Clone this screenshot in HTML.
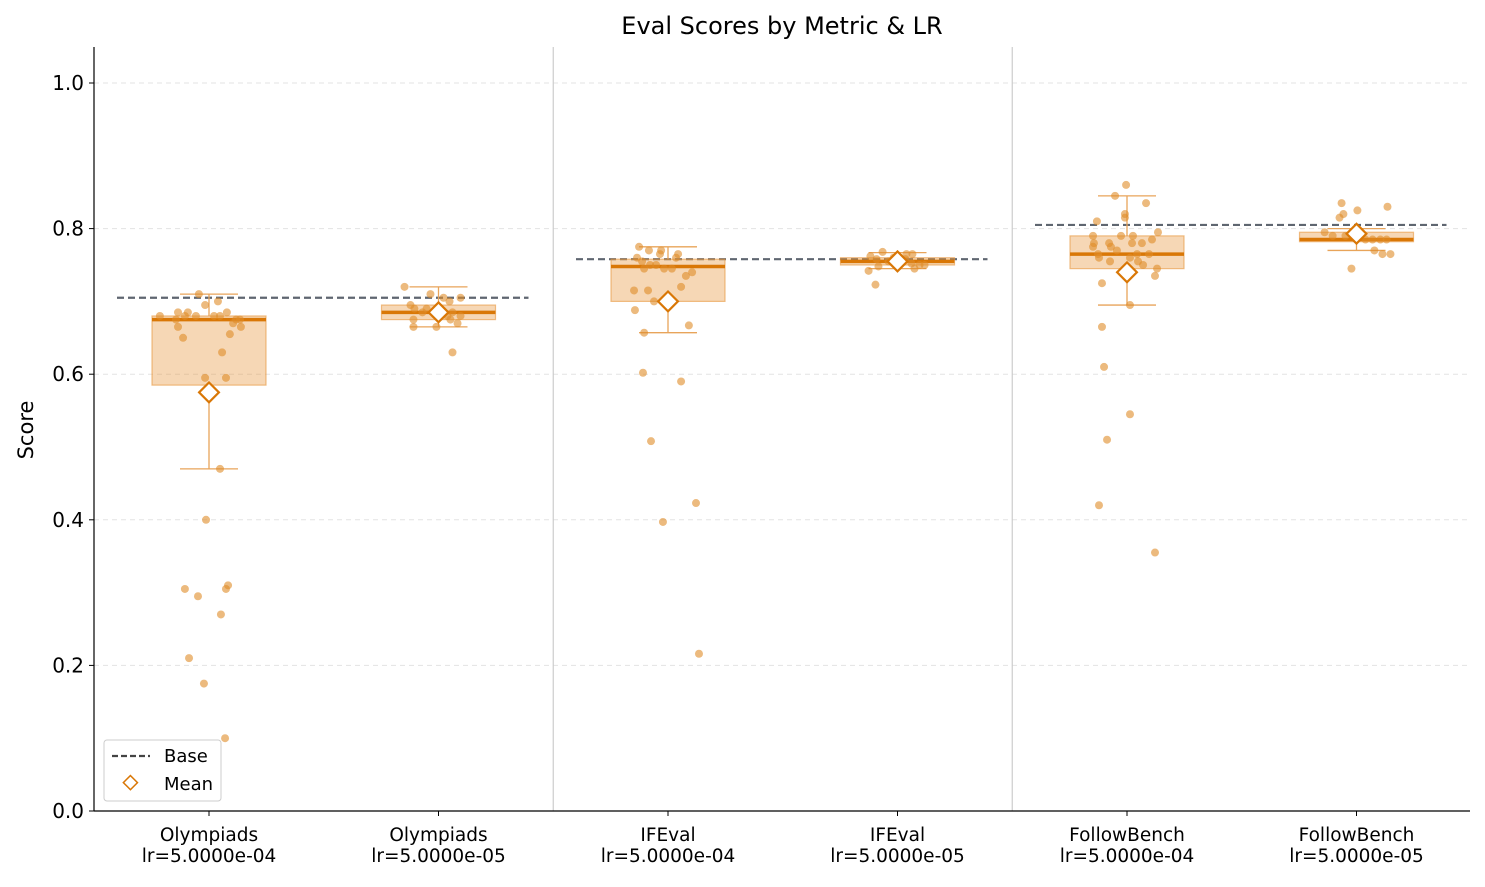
<!DOCTYPE html>
<html><head><meta charset="utf-8"><style>
body{margin:0;background:#fff;font-family:"Liberation Sans","DejaVu Sans",sans-serif}
svg text{font-family:"DejaVu Sans","Liberation Sans",sans-serif}
</style></head><body>
<svg id="chart" width="1485" height="882" viewBox="0 0 1485 882" xmlns="http://www.w3.org/2000/svg">
<text x="782" y="34" font-size="24" text-anchor="middle" fill="#000">Eval Scores by Metric &amp; LR</text>
<text x="0" y="0" font-size="21" text-anchor="middle" transform="translate(33,430) rotate(-90)">Score</text>
<g id="grid"></g><g id="marks"></g><g id="axes"></g>
<g>
<rect x="104" y="740" width="117" height="61" rx="3" fill="#fff" stroke="#ccc"/>
<line x1="112" y1="756" x2="150" y2="756" stroke="#444" stroke-width="2.2" stroke-dasharray="6,3"/>
<text x="164" y="762" font-size="18">Base</text>
<rect x="124" y="777" width="10" height="10" transform="rotate(45 129 784)" fill="#fff" stroke="#d97706" stroke-width="1.5"/>
<text x="164" y="790" font-size="18">Mean</text>
</g>
</svg>
<script>
const categories=["Olympiads\nlr=5.0000e-04","Olympiads\nlr=5.0000e-05","IFEval\nlr=5.0000e-04","IFEval\nlr=5.0000e-05","FollowBench\nlr=5.0000e-04","FollowBench\nlr=5.0000e-05"];
const q1=[0.585,0.675,0.70,0.75,0.745,0.782];
const median=[0.675,0.685,0.748,0.755,0.765,0.785];
const q3=[0.68,0.695,0.758,0.76,0.79,0.795];
const whiskerLow=[0.47,0.665,0.657,0.745,0.695,0.77];
const whiskerHigh=[0.71,0.72,0.775,0.767,0.845,0.80];
const means=[0.575,0.685,0.70,0.755,0.74,0.793];
const baseScores=[0.705,0.758,0.805];
const yTicks=[0,0.2,0.4,0.6,0.8,1.0];
const pointValues=[
[.71,.70,.695,.685,.685,.68,.68,.68,.685,.675,.67,.665,.665,.655,.65,.63,.595,.595,.47,.40,.31,.305,.305,.295,.27,.21,.175,.10,.68,.675,.68,.675],
[.72,.71,.705,.705,.70,.695,.69,.685,.685,.68,.68,.675,.675,.67,.665,.665,.63,.69,.69],
[.775,.77,.77,.765,.765,.76,.76,.755,.75,.75,.745,.745,.74,.735,.72,.715,.715,.70,.688,.667,.657,.602,.59,.508,.423,.397,.216,.745],
[.768,.765,.765,.762,.76,.758,.758,.755,.752,.75,.75,.748,.745,.742,.723,.755],
[.86,.845,.835,.82,.815,.81,.795,.79,.79,.79,.785,.78,.78,.78,.78,.775,.775,.77,.765,.765,.765,.76,.76,.755,.755,.75,.745,.735,.725,.695,.665,.61,.545,.51,.42,.355],
[.835,.83,.825,.82,.815,.795,.79,.79,.785,.785,.785,.785,.77,.765,.765,.745]];
const pointJitter=[
[-.044,.039,-.017,-.135,-.092,-.057,.022,.048,.078,.135,.105,-.135,.139,.091,-.113,.057,-.017,.074,.048,-.013,.083,-.105,.074,-.048,.052,-.087,-.022,.070,-.214,-.144,-.105,.118],
[-.148,-.035,.022,.096,.048,-.122,-.105,-.070,.061,.039,.096,-.109,.052,.083,-.109,-.009,.061,-.052,.009],
[-.126,-.083,-.030,-.035,.044,-.135,.035,-.113,-.078,-.052,-.104,.017,.105,.078,.057,-.148,-.087,-.061,-.144,.091,-.104,-.109,.057,-.074,.122,-.022,.135,-.017],
[-.065,.039,.065,-.118,-.017,-.091,.035,.004,.061,.096,.118,-.083,.074,-.126,-.096,-.039],
[-.004,-.052,.083,-.009,-.009,-.131,.135,-.148,-.026,.026,.109,-.144,-.078,.022,.065,-.148,-.070,-.044,-.126,.044,.096,-.122,.013,-.074,.048,.070,.131,.122,-.109,.013,-.109,-.100,.013,-.087,-.122,.122],
[-.065,.135,.004,-.057,-.074,-.139,-.104,-.048,.039,.070,.104,.131,.078,.113,.148,-.022]];
const NS="http://www.w3.org/2000/svg";
const X0=94,X1=1470,Y0=811,C0=209,STEP=229.5;
const yS=v=>Y0-728*v;
const xS=i=>C0+STEP*i;
function mk(tag,attrs,parent){const e=document.createElementNS(NS,tag);for(const k in attrs)e.setAttribute(k,attrs[k]);parent.appendChild(e);return e;}
const grid=document.getElementById('grid'),marks=document.getElementById('marks'),axes=document.getElementById('axes');
yTicks.forEach(t=>{
 if(t>0){const g=mk('line',{x1:X0,x2:X1,y1:yS(t),y2:yS(t),stroke:'#e3e3e3','stroke-dasharray':'5,4'},grid);
 
 }
 mk('line',{x1:X0-5,x2:X0,y1:yS(t),y2:yS(t),stroke:'#000'},axes);
 const tx=mk('text',{x:X0-10,y:yS(t)+7,'font-size':20,'text-anchor':'end'},axes);tx.textContent=t.toFixed(1);
 
 
});
[1.5,3.5].forEach(p=>{const l=mk('line',{x1:xS(p),x2:xS(p),y1:47,y2:Y0,stroke:'#ccc','stroke-width':1.2},grid);
 
 });
baseScores.forEach((b,m)=>{
 const l=mk('line',{x1:xS(2*m)-92,x2:xS(2*m+1)+90,y1:yS(b),y2:yS(b),stroke:'#5f6670','stroke-width':2.2,'stroke-dasharray':'7,4'},marks);
 
 
});
const OR='#d97706',HW=57;
categories.forEach((c,i)=>{
 const cx=xS(i);
 const g=mk('g',{},marks);
 
 
 mk('line',{x1:cx,x2:cx,y1:yS(q1[i]),y2:yS(whiskerLow[i]),stroke:'#e8a45a','stroke-width':1.3},g);
 mk('line',{x1:cx,x2:cx,y1:yS(q3[i]),y2:yS(whiskerHigh[i]),stroke:'#e8a45a','stroke-width':1.3},g);
 mk('line',{x1:cx-29,x2:cx+29,y1:yS(whiskerLow[i]),y2:yS(whiskerLow[i]),stroke:'#e8a45a','stroke-width':1.3},g);
 mk('line',{x1:cx-29,x2:cx+29,y1:yS(whiskerHigh[i]),y2:yS(whiskerHigh[i]),stroke:'#e8a45a','stroke-width':1.3},g);
 mk('rect',{x:cx-HW,y:yS(q3[i]),width:2*HW,height:yS(q1[i])-yS(q3[i]),fill:'rgba(232,150,60,0.38)',stroke:'rgba(232,150,60,0.6)','stroke-width':1.2},g);
 mk('line',{x1:cx-HW,x2:cx+HW,y1:yS(median[i]),y2:yS(median[i]),stroke:OR,'stroke-width':3.5},g);
 pointValues[i].forEach((v,k)=>{
  const p=mk('circle',{cx:cx+pointJitter[i][k]*STEP,cy:yS(v),r:4,fill:'rgba(224,140,40,0.6)'},g);
  
  
 });
 const my=yS(means[i]);
 const d=mk('rect',{x:cx-7,y:my-7,width:14,height:14,transform:`rotate(45 ${cx} ${my})`,fill:'#fff',stroke:OR,'stroke-width':2.2},g);
 
 
 mk('line',{x1:cx,x2:cx,y1:Y0,y2:Y0+5,stroke:'#000'},axes);
 const lines=c.split('\n');
 lines.forEach((s,j)=>{const t=mk('text',{x:cx,y:Y0+30+j*21,'font-size':18.5,'text-anchor':'middle'},axes);t.textContent=s;
  
  });
});
const ya=mk('line',{x1:X0,x2:X0,y1:47,y2:Y0,stroke:'#000','stroke-width':1.2},axes);


const xa=mk('line',{x1:X0,x2:X1,y1:Y0,y2:Y0,stroke:'#000','stroke-width':1.2},axes);


</script>
</body></html>
